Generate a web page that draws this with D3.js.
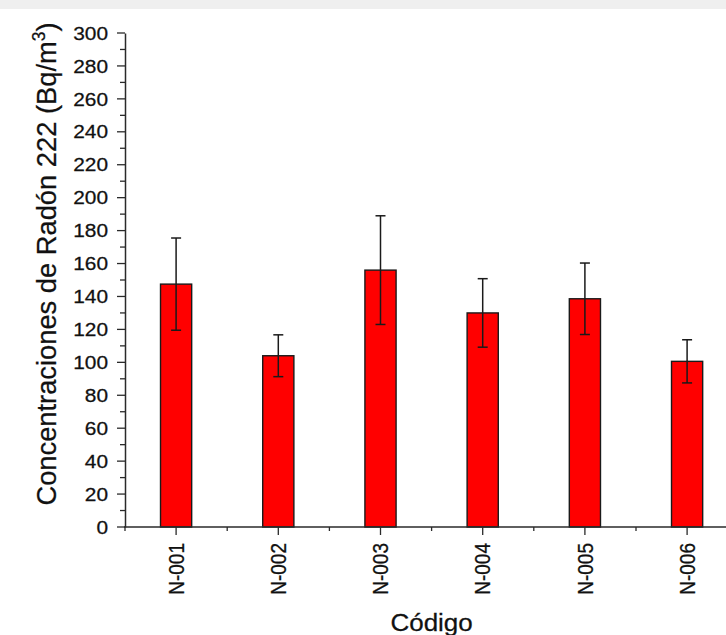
<!DOCTYPE html>
<html>
<head>
<meta charset="utf-8">
<script src="https://cdn.jsdelivr.net/npm/d3@7"></script>
<style>
  html, body { margin: 0; padding: 0; background: #fff; }
  svg { display: block; }
  text { font-family: "Liberation Sans", Arial, sans-serif; fill: #111; stroke: #111; stroke-width: 0.25px; }
</style>
</head>
<body>
<svg id="chart" width="726" height="635"></svg>
<script>
// Radon-222 concentration per sampling code, with error bars
const codes = ["N-001", "N-002", "N-003", "N-004", "N-005", "N-006"];
const concentration = [147.5, 104, 156, 130, 138.6, 100.6];
const uncertainty = [28, 12.7, 33, 20.8, 21.7, 13.1];
const yTicks = [0, 20, 40, 60, 80, 100, 120, 140, 160, 180, 200, 220, 240, 260, 280, 300];

const svg = d3.select("#chart");
const W = 726, H = 635;
const sx = 1.13;           // horizontal glyph stretch
const plotLeft = 125, plotTop = 33, plotBottom = 527;
const step = 102.2;

// faint band along the top edge
svg.append("rect").attr("x", 0).attr("y", 0).attr("width", W).attr("height", 9).attr("fill", "#efefef");

const x = d3.scaleBand().domain(codes).range([plotLeft, plotLeft + step * codes.length]).padding(0);
const y = d3.scaleLinear().domain([0, 300]).range([plotBottom, plotTop]);
const barW = x.bandwidth() * 0.305;
const axisColor = "#2a2a2a";

// bars
svg.append("g").selectAll("rect").data(codes).join("rect")
  .attr("x", d => x(d) + x.bandwidth() / 2 - barW / 2)
  .attr("y", (d, i) => y(concentration[i]))
  .attr("width", barW)
  .attr("height", (d, i) => y(0) - y(concentration[i]))
  .attr("fill", "#ff0000")
  .attr("stroke", "#1a1a1a")
  .attr("stroke-width", 1.4);

// error bars
const eb = svg.append("g").attr("stroke", "#1a1a1a").attr("stroke-width", 1.5).attr("fill", "none");
codes.forEach((c, i) => {
  const cx = x(c) + x.bandwidth() / 2;
  const hi = y(concentration[i] + uncertainty[i]);
  const lo = y(concentration[i] - uncertainty[i]);
  eb.append("line").attr("x1", cx).attr("x2", cx).attr("y1", hi).attr("y2", lo);
  eb.append("line").attr("x1", cx - 5).attr("x2", cx + 5).attr("y1", hi).attr("y2", hi);
  eb.append("line").attr("x1", cx - 5).attr("x2", cx + 5).attr("y1", lo).attr("y2", lo);
});

// y axis: major ticks with labels, minor ticks between
const yAxis = svg.append("g").attr("transform", `translate(${plotLeft},0)`);
yAxis.call(d3.axisLeft(y).tickValues(d3.range(0, 301, 10)).tickSize(0).tickFormat(""));
yAxis.select(".domain").attr("stroke", axisColor).attr("stroke-width", 1.5);
yAxis.selectAll(".tick").remove();
const yTickG = yAxis.append("g").attr("stroke", axisColor).attr("stroke-width", 1.3);
d3.range(0, 301, 10).forEach(v => {
  const major = yTicks.includes(v);
  yTickG.append("line").attr("x1", major ? -8 : -5).attr("x2", 0).attr("y1", y(v)).attr("y2", y(v));
});
yAxis.selectAll("text.yl").data(yTicks).join("text").attr("class", "yl")
  .attr("transform", d => `translate(-17,${y(d)}) scale(${sx},1)`)
  .attr("text-anchor", "end")
  .attr("dy", "0.36em")
  .attr("font-size", 18.5)
  .text(d => d);

// x axis
const xAxis = svg.append("g").attr("transform", `translate(0,${plotBottom})`);
xAxis.append("line").attr("x1", plotLeft - 1).attr("x2", plotLeft + step * codes.length)
  .attr("stroke", axisColor).attr("stroke-width", 1.5);
const xt = xAxis.append("g").attr("stroke", axisColor).attr("stroke-width", 1.3);
codes.forEach(c => {
  const cx = x(c) + x.bandwidth() / 2;
  xt.append("line").attr("x1", cx).attr("x2", cx).attr("y1", 0).attr("y2", 8);
  xt.append("line").attr("x1", x(c)).attr("x2", x(c)).attr("y1", 0).attr("y2", 4);
});
xAxis.selectAll("text.xl").data(codes).join("text").attr("class", "xl")
  .attr("transform", d => `translate(${x(d) + x.bandwidth() / 2},16) scale(${sx},1) rotate(-90)`)
  .attr("text-anchor", "end")
  .attr("dy", "0.36em")
  .attr("font-size", 19)
  .text(d => d);

// axis titles
const yTitle = svg.append("text")
  .attr("transform", `translate(56,264) rotate(-90)`)
  .attr("text-anchor", "middle")
  .attr("font-size", 27.3);
yTitle.append("tspan").text("Concentraciones de Radón 222 (Bq/m");
yTitle.append("tspan").attr("font-size", 17.5).attr("dy", "-0.65em").text("3");
yTitle.append("tspan").attr("dy", "0.42em").text(")");

svg.append("text")
  .attr("transform", `translate(${plotLeft + step * 3},631) scale(${sx},1)`)
  .attr("text-anchor", "middle")
  .attr("font-size", 23)
  .text("Código");
</script>
</body>
</html>
